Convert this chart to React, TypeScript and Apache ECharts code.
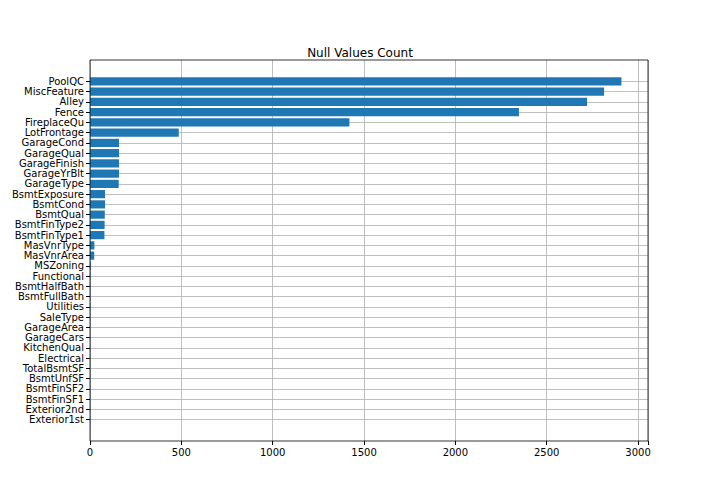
import React, { useEffect, useRef } from "react";
import * as echarts from "echarts";

const categories = ["PoolQC","MiscFeature","Alley","Fence","FireplaceQu","LotFrontage","GarageCond","GarageQual","GarageFinish","GarageYrBlt","GarageType","BsmtExposure","BsmtCond","BsmtQual","BsmtFinType2","BsmtFinType1","MasVnrType","MasVnrArea","MSZoning","Functional","BsmtHalfBath","BsmtFullBath","Utilities","SaleType","GarageArea","GarageCars","KitchenQual","Electrical","TotalBsmtSF","BsmtUnfSF","BsmtFinSF2","BsmtFinSF1","Exterior2nd","Exterior1st"];
const nullCounts = [2909,2814,2721,2348,1420,486,159,159,159,159,157,82,82,81,80,79,24,23,4,2,2,2,2,1,1,1,1,1,1,1,1,1,1,1];
const xTicks = [0, 500, 1000, 1500, 2000, 2500, 3000];

export default function App() {
  const ref = useRef<HTMLDivElement>(null);
  useEffect(() => {
    const chart = echarts.init(ref.current!, null, { renderer: "svg" });
    const font = "DejaVu Sans";
    const xMax = 2909 * 1.05;
    const L = 90, R = 648, T = 60, B = 441;
    const span = 37.18, unit = (B - T) / span;
    const yTop = T + 2.09 * unit;
    const yBot = T + (33 + 2.09) * unit;
    chart.setOption({
      animation: false,
      textStyle: { fontFamily: font },
      title: { text: "Null Values Count", left: "center", top: 42, textStyle: { fontSize: 12, fontWeight: "normal", color: "#000", fontFamily: font } },
      grid: [
        { left: L, right: 720 - R, top: yTop, bottom: 504 - yBot },
        { left: L, right: 720 - R, top: T, bottom: 504 - B },
      ],
      xAxis: [
        { type: "value", gridIndex: 0, min: 0, max: xMax, show: false, splitLine: { show: false } },
        { type: "value", gridIndex: 1, min: 0, max: xMax, interval: 500,
          axisLine: { show: false }, axisTick: { show: true, length: 4, lineStyle: { color: "#000" } },
          axisLabel: { color: "#000", fontSize: 10, margin: 6, formatter: (v: number) => xTicks.includes(v) ? String(v) : "" },
          splitLine: { show: true, lineStyle: { color: "#b0b0b0", width: 0.8 } } },
      ],
      yAxis: [
        { type: "category", gridIndex: 0, data: categories, inverse: true, boundaryGap: false,
          axisLine: { show: false }, axisTick: { show: true, length: 4, lineStyle: { color: "#000" } },
          axisLabel: { color: "#000", fontSize: 10, margin: 6, interval: 0 },
          splitLine: { show: true, interval: 0, lineStyle: { color: "#b0b0b0", width: 0.8 } } },
        { type: "value", gridIndex: 1, show: false, splitLine: { show: false } },
      ],
      graphic: [{ type: "rect", shape: { x: L, y: T, width: R - L, height: B - T }, style: { fill: "none", stroke: "#000", lineWidth: 0.8 }, silent: true, z: 100 }],
      series: [{ type: "bar", xAxisIndex: 0, yAxisIndex: 0, data: nullCounts, barWidth: 0.8 * unit, clip: false, itemStyle: { color: "#1f77b4" }, z: 3 }],
    });
    return () => chart.dispose();
  }, []);
  return <div ref={ref} style={{ position: "fixed", left: 0, top: 0, width: 720, height: 504, background: "#fff" }} />;
}
